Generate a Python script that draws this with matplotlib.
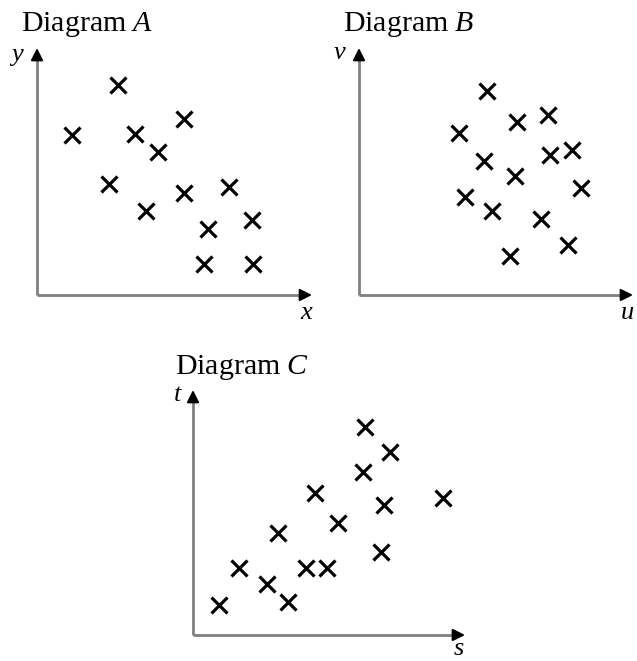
import matplotlib
matplotlib.use("Agg")
import matplotlib.pyplot as plt
from matplotlib.transforms import offset_copy

plt.rcParams['font.family'] = ['Liberation Serif', 'DejaVu Serif']
plt.rcParams['mathtext.fontset'] = 'custom'
plt.rcParams['mathtext.rm'] = 'Liberation Serif'
plt.rcParams['mathtext.it'] = 'Liberation Serif:italic'

# Diagram A (x, y)
a_x = [3.24, 1.40, 3.92, 4.84, 5.88, 2.88, 4.36, 5.88, 7.68, 6.84, 8.60, 6.68, 8.64]
a_y = [8.50, 6.48, 6.52, 5.79, 7.13, 4.49, 3.40, 4.13, 4.37, 2.67, 3.04, 1.26, 1.26]
# Diagram B (u, v)
b_u = [5.14, 4.02, 6.35, 7.59, 5.02, 6.27, 7.67, 8.55, 8.92, 4.26, 5.34, 7.31, 8.39, 6.06]
b_v = [8.26, 6.56, 7.00, 7.29, 5.43, 4.82, 5.67, 5.87, 4.33, 3.97, 3.40, 3.08, 2.02, 1.58]
# Diagram C (s, t)
c_s = [6.96, 7.98, 6.88, 4.94, 7.73, 10.12, 5.87, 3.44, 1.86, 3.00, 4.57, 5.43, 7.61, 3.85, 1.05]
c_t = [8.49, 7.47, 6.65, 5.80, 5.31, 5.59, 4.57, 4.16, 2.73, 2.08, 2.73, 2.73, 3.39, 1.35, 1.22]

titles = ["A", "B", "C"]
xlabels = ["x", "u", "s"]
ylabels = ["y", "v", "t"]

W, H = 637, 661
fig = plt.figure(figsize=(W / 100, H / 100), dpi=100)


def px_axes(left, bottom, width, height):
    return fig.add_axes([left / W, 1 - bottom / H, width / W, height / H])


def draw_panel(ax, xs, ys, xl, yl, ylab_dx, ylab_dy, xlab_dy):
    ax.set_xlim(0, 11)
    ax.set_ylim(0, 10)
    ax.axis('off')
    tr = ax.transAxes
    gray = '#808080'
    ax.plot([0, 0.975], [0, 0], color=gray, lw=2, transform=tr, clip_on=False, solid_capstyle='butt')
    ax.plot([0, 0], [0, 0.97], color=gray, lw=2, transform=tr, clip_on=False, solid_capstyle='butt')
    ax.annotate("", xy=(1.0, 0), xytext=(0.96, 0), xycoords=tr, textcoords=tr,
                arrowprops=dict(arrowstyle='-|>', color='black', lw=1.5, mutation_scale=18,
                                shrinkA=0, shrinkB=0))
    ax.annotate("", xy=(0, 1.0), xytext=(0, 0.955), xycoords=tr, textcoords=tr,
                arrowprops=dict(arrowstyle='-|>', color='black', lw=1.5, mutation_scale=18,
                                shrinkA=0, shrinkB=0))
    ax.plot(xs, ys, linestyle='none', marker='x', color='black', markersize=12,
            markeredgewidth=2.3, clip_on=False)
    ytr = offset_copy(tr, fig=fig, x=ylab_dx, y=ylab_dy, units='dots')
    ax.text(0, 1.0, yl, transform=ytr, ha='center', va='center', fontsize=19, style='italic')
    xtr = offset_copy(tr, fig=fig, x=-6, y=xlab_dy, units='dots')
    ax.text(1.0, 0, xl, transform=xtr, ha='center', va='center', fontsize=19, style='italic')
    return ax


axA = px_axes(37, 295, 275, 247)
draw_panel(axA, a_x, a_y, xlabels[0], ylabels[0], -20, -7, -18)
axB = px_axes(359, 295, 274, 247)
draw_panel(axB, b_u, b_v, xlabels[1], ylabels[1], -19, -5, -18)
axC = px_axes(193, 635, 272, 245)
draw_panel(axC, c_s, c_t, xlabels[2], ylabels[2], -15, -5, -14)

for (lx, by), t in zip([(21, 31), (343, 31), (175, 374)], titles):
    fig.text(lx / W, 1 - by / H, "Diagram $" + t + "$", ha='left', va='baseline', fontsize=21.5)

fig.savefig("out.png", dpi=100, facecolor='white')
